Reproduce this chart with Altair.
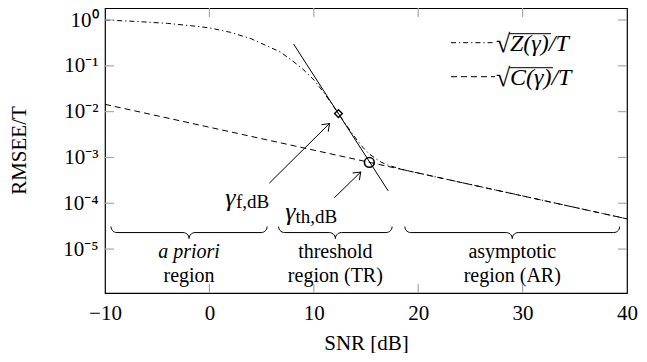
import math
import altair as alt
import pandas as pd
import numpy as np

# ---------------- data ----------------
snr_z = [-10, -7, -4, -1, 0, 2, 4, 5.4, 6.8, 8, 8.9, 10.1, 11.1, 12.36, 13.5,
         14.2, 14.7, 15.3, 15.9, 16.5, 17.1, 18, 19, 20, 25, 30, 35, 40]
z_vals = [1.0, 0.93, 0.845, 0.72, 0.675, 0.54, 0.39, 0.28, 0.20, 0.126, 0.087,
          0.047, 0.0235, 0.0091, 0.0038, 0.0023, 0.00166, 0.0012, 0.00095,
          0.00078, 0.00068, 0.00059, 0.00051, 0.000457, 0.000257, 0.000145,
          0.0000813, 0.0000457]

snr_c = [-10, 0, 10, 20, 30, 40]
c_vals = [0.01445, 0.00457, 0.001445, 0.000457, 0.0001445, 0.0000457]

tangent_snr = [8.06, 17.13]
tangent_vals = [0.30, 0.000186]

f_snr, f_val = 12.36, 0.0091      # gamma_f marker (diamond)
th_snr, th_val = 15.32, 0.00078   # gamma_th marker (circle)

arrow_tail_snr = [5.74, 11.97]
arrow_tail_val = [0.000275, 0.000132]
arrow_head_snr = [11.5, 14.49]
arrow_head_val = [0.0055, 0.00048]

gamma_label_snr = [2.02, 7.75]
gamma_label_val = [0.0000891, 0.0000421]
gamma_sub = ["f,dB", "th,dB"]
gamma_sub_snr = [2.55, 8.25]
gamma_sub_val = [0.0000776, 0.0000363]

brace_start = [-9.43, 6.63, 18.72]
brace_end = [5.53, 17.5, 39.3]
brace_top_val = 0.0000310
region_line1 = ["a priori", "threshold", "asymptotic"]
region_line2 = ["region", "region (TR)", "region (AR)"]
region_line1_val = 0.0000085
region_line2_val = 0.0000026

x_ticks = [-10, 0, 10, 20, 30, 40]
y_ticks = [1e-5, 1e-4, 1e-3, 1e-2, 1e-1, 1]
y_tick_labels = ["10⁻⁵", "10⁻⁴", "10⁻³", "10⁻²", "10⁻¹", "10⁰"]

# ---------------- layout / style ----------------
W, H = 522, 285
PAD_L = 97
X_DOM = [-10, 40]
Y_DOM = [1.1e-6, 1.83]
PX_PER_DB = W / (X_DOM[1] - X_DOM[0])
PX_PER_DEC = H / (math.log10(Y_DOM[1]) - math.log10(Y_DOM[0]))
FONT = "Liberation Serif"
DASHDOT = [5, 3, 1.2, 3]
DASHED = [6, 4]

label_expr_y = "[" + ",".join("'%s'" % s for s in y_tick_labels) + "][round(log(datum.value)/LN10)+5]"

xscale = alt.Scale(domain=X_DOM, nice=False, zero=False)
yscale = alt.Scale(type="log", domain=Y_DOM, nice=False)
xaxis = alt.Axis(values=x_ticks, title="SNR [dB]", grid=False, ticks=False, domain=False,
                 labelExpr="datum.value < 0 ? '−' + (-datum.value) : '' + datum.value",
                 labelFlush=False, labelOverlap=False,
                 labelPadding=20, labelBaseline="middle", titleY=50, titleBaseline="middle",
                 labelFont=FONT, labelFontSize=21, labelFontWeight="normal",
                 titleFont=FONT, titleFontSize=21,
                 titleFontWeight="normal", labelColor="black", titleColor="black")
yaxis = alt.Axis(values=y_ticks, title="RMSEE/T", grid=False, ticks=False, domain=False,
                 labelExpr=label_expr_y, labelPadding=7, labelFlush=False, labelOverlap=False,
                 labelFont=FONT, labelFontSize=21, labelFontWeight="normal",
                 titleFont=FONT, titleFontSize=21,
                 titleFontWeight="normal", labelColor="black", titleColor="black",
                 titleX=-86, titleY=142, titleAngle=270, titleAlign="center",
                 titleBaseline="middle")


def X(field="snr"):
    return alt.X(f"{field}:Q", scale=xscale, axis=xaxis)


def Y(field="v"):
    return alt.Y(f"{field}:Q", scale=yscale, axis=yaxis)


def txt(**kw):
    base = dict(font=FONT, fontWeight="normal", color="black")
    base.update(kw)
    return base


# ---------------- frames ----------------
z_df = pd.DataFrame({"snr": snr_z, "v": z_vals})
c_df = pd.DataFrame({"snr": snr_c, "v": c_vals})
t_df = pd.DataFrame({"snr": tangent_snr, "v": tangent_vals})

c_line = alt.Chart(c_df).mark_line(color="black", strokeWidth=1, strokeDash=DASHED).encode(x=X(), y=Y())
z_line = alt.Chart(z_df).mark_line(color="black", strokeWidth=1, strokeDash=DASHDOT).encode(x=X(), y=Y())
t_line = alt.Chart(t_df).mark_line(color="black", strokeWidth=1).encode(x=X(), y=Y())

diamond = alt.Chart(pd.DataFrame({"snr": [f_snr], "v": [f_val]})).mark_point(
    shape="diamond", filled=False, color="black", strokeWidth=1.4, size=60, opacity=1).encode(x=X(), y=Y())
circle = alt.Chart(pd.DataFrame({"snr": [th_snr], "v": [th_val]})).mark_point(
    shape="circle", filled=False, color="black", strokeWidth=1.6, size=95, opacity=1).encode(x=X(), y=Y())

# arrows
arr_rows = []
head_rows = []
for i in range(len(arrow_tail_snr)):
    arr_rows.append({"id": i, "o": 0, "snr": arrow_tail_snr[i], "v": arrow_tail_val[i]})
    arr_rows.append({"id": i, "o": 1, "snr": arrow_head_snr[i], "v": arrow_head_val[i]})
    dx = (arrow_head_snr[i] - arrow_tail_snr[i]) * PX_PER_DB
    dy = -(math.log10(arrow_head_val[i]) - math.log10(arrow_tail_val[i])) * PX_PER_DEC
    ang = math.degrees(math.atan2(dy, dx)) % 360
    head_rows.append({"snr": arrow_head_snr[i], "v": arrow_head_val[i], "ang": ang})
arrows = alt.Chart(pd.DataFrame(arr_rows)).mark_line(color="black", strokeWidth=1).encode(
    x=X(), y=Y(), detail="id:N", order="o:Q")
heads = alt.Chart(pd.DataFrame(head_rows)).mark_point(
    shape="M-1,-0.75L0,0L-1,0.75", filled=False, color="black", strokeWidth=1, size=170, opacity=1
).encode(x=X(), y=Y(), angle=alt.Angle("ang:Q", scale=None))

# gamma labels
g_df = pd.DataFrame({"snr": gamma_label_snr, "v": gamma_label_val, "t": ["γ", "γ"]})
gs_df = pd.DataFrame({"snr": gamma_sub_snr, "v": gamma_sub_val, "t": gamma_sub})
g_text = alt.Chart(g_df).mark_text(**txt(fontSize=26, fontStyle="italic", align="center",
                                         baseline="alphabetic")).encode(x=X(), y=Y(), text="t:N")
gs_text = alt.Chart(gs_df).mark_text(**txt(fontSize=19, align="left",
                                           baseline="alphabetic")).encode(x=X(), y=Y(), text="t:N")

# braces
r_px = 6.0
rx = r_px / PX_PER_DB
ry = r_px / PX_PER_DEC
ts = np.linspace(0, math.pi / 2, 8)
brace_rows = []
ytop = math.log10(brace_top_val)
for b in range(len(brace_start)):
    x0, x1 = brace_start[b], brace_end[b]
    xm = (x0 + x1) / 2
    half = []
    for t in ts:
        half.append((x0 + rx - rx * math.cos(t), ytop - ry * math.sin(t)))
    for t in ts:
        half.append((xm - rx + rx * math.sin(t), ytop - 2 * ry + ry * math.cos(t)))
    full = half + [(x0 + x1 - px, py) for (px, py) in reversed(half)]
    for k, (px, py) in enumerate(full):
        brace_rows.append({"b": b, "o": k, "snr": px, "v": 10 ** py})
braces = alt.Chart(pd.DataFrame(brace_rows)).mark_line(color="black", strokeWidth=1).encode(
    x=X(), y=Y(), detail="b:N", order="o:Q")

centers = [(s + e) / 2 for s, e in zip(brace_start, brace_end)]
r1_df = pd.DataFrame({"snr": centers, "v": [region_line1_val] * 3, "t": region_line1,
                      "it": ["italic", "normal", "normal"]})
r2_df = pd.DataFrame({"snr": centers, "v": [region_line2_val] * 3, "t": region_line2})
r1_it = alt.Chart(r1_df[r1_df.it == "italic"]).mark_text(
    **txt(fontSize=20, fontStyle="italic", baseline="middle")).encode(x=X(), y=Y(), text="t:N")
r1_n = alt.Chart(r1_df[r1_df.it == "normal"]).mark_text(
    **txt(fontSize=20, baseline="middle")).encode(x=X(), y=Y(), text="t:N")
r2 = alt.Chart(r2_df).mark_text(**txt(fontSize=20, baseline="middle")).encode(
    x=X(), y=Y(), text="t:N")

# inward ticks
TL = 9
TICK_COLOR = "#a8a8a8"
yt_df = pd.DataFrame({"v": y_ticks})
xt_df = pd.DataFrame({"snr": x_ticks[1:-1]})
yl = alt.Chart(yt_df).mark_rule(color=TICK_COLOR, strokeWidth=1.2).encode(
    y=Y(), x=alt.value(0), x2=alt.value(TL))
yr = alt.Chart(yt_df).mark_rule(color=TICK_COLOR, strokeWidth=1.2).encode(
    y=Y(), x=alt.value(W - TL), x2=alt.value(W))
xb = alt.Chart(xt_df).mark_rule(color=TICK_COLOR, strokeWidth=1.2).encode(
    x=X(), y=alt.value(H - TL), y2=alt.value(H))
xtp = alt.Chart(xt_df).mark_rule(color=TICK_COLOR, strokeWidth=1.2).encode(
    x=X(), y=alt.value(0), y2=alt.value(TL))

# legend (manual, top right)
leg = pd.DataFrame({"k": [0]})
row1, row2 = 34.7, 68.7
lx0, lx1 = 346, 390
leg_z = alt.Chart(leg).mark_rule(color="black", strokeWidth=1, strokeDash=DASHDOT).encode(
    x=alt.value(lx0), x2=alt.value(lx1), y=alt.value(row1))
leg_c = alt.Chart(leg).mark_rule(color="black", strokeWidth=1, strokeDash=DASHED).encode(
    x=alt.value(lx0), x2=alt.value(lx1), y=alt.value(row2))
sq1 = alt.Chart(leg).mark_text(**txt(text="√", fontSize=26, align="left", baseline="middle")).encode(
    x=alt.value(391), y=alt.value(row1 + 1))
sq2 = alt.Chart(leg).mark_text(**txt(text="√", fontSize=26, align="left", baseline="middle")).encode(
    x=alt.value(391), y=alt.value(row2 + 1))
tz = alt.Chart(leg).mark_text(**txt(text="Z(γ)/T", fontSize=24, fontStyle="italic", align="left",
                                    baseline="middle")).encode(x=alt.value(405), y=alt.value(row1 + 1))
tc = alt.Chart(leg).mark_text(**txt(text="C(γ)/T", fontSize=24, fontStyle="italic", align="left",
                                    baseline="middle")).encode(x=alt.value(405), y=alt.value(row2 + 1))
ov1 = alt.Chart(leg).mark_rule(color="black", strokeWidth=1).encode(
    x=alt.value(404), x2=alt.value(446), y=alt.value(row1 - 9))
ov2 = alt.Chart(leg).mark_rule(color="black", strokeWidth=1).encode(
    x=alt.value(404), x2=alt.value(448), y=alt.value(row2 - 9))

chart = alt.layer(
    c_line, z_line, t_line, arrows, heads, diamond, circle, g_text, gs_text,
    braces, r1_it, r1_n, r2, yl, yr, xb, xtp,
    leg_z, leg_c, sq1, sq2, tz, tc, ov1, ov2
).properties(
    width=W, height=H,
    autosize=alt.AutoSizeParams(type="none"),
    padding={"left": PAD_L, "top": 0, "right": 631 - PAD_L - W, "bottom": 60},
).configure(font=FONT).configure_view(stroke="black", strokeWidth=1.2).configure_axis(
    grid=False, labelFont=FONT, titleFont=FONT).configure_text(font=FONT)

chart.save("out.html", embed_options={"renderer": "svg", "actions": False})
